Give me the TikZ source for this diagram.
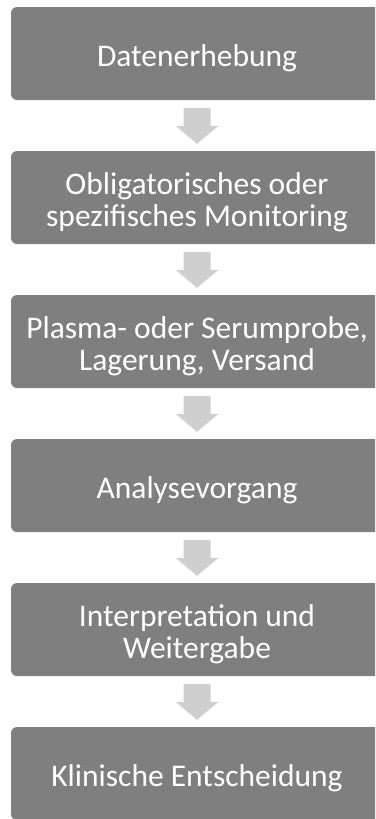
\documentclass[tikz,border=0pt]{standalone}
\usepackage{fontspec}
\setmainfont{Carlito}
\definecolor{boxgray}{HTML}{7F7F7F}
\definecolor{arrgray}{HTML}{CFCFCF}
\begin{document}
\begin{tikzpicture}[x=1pt,y=-1pt,
  stage/.style={fill=boxgray, rounded corners=6pt, minimum width=372pt, minimum height=93pt, inner sep=0pt},
  stagetext/.style={text=white, align=center, inner sep=0pt, font=\fontsize{31.5}{32}\selectfont},
  blockarrow/.style={fill=arrgray}]
\useasboundingbox (0,0) rectangle (375,819);
\clip (0,0) rectangle (375,819);
\foreach \i/\t in {1/{Datenerhebung},2/{Obligatorisches oder\\spezifisches Monitoring},3/{Plasma- oder Serumprobe,\\Lagerung, Versand},4/{Analysevorgang},5/{Interpretation und\\Weitergabe},6/{Klinische Entscheidung}}{
  \node[stage] (b\i) at (197,{7+46.5+144*(\i-1)}) {};
  \node[stagetext] (t\i) at ([yshift=-5pt]b\i.center) {\t};
}
\foreach \i [evaluate=\i as \j using int(\i+1)] in {1,...,5}{
  \fill[blockarrow] ([xshift=-13.5pt,yshift=-8pt]b\i.south) -- ([xshift=13.5pt,yshift=-8pt]b\i.south)
    -- ([xshift=13.5pt,yshift=-26pt]b\i.south) -- ([xshift=21pt,yshift=-26pt]b\i.south)
    -- ([yshift=7pt]b\j.north) -- ([xshift=-21pt,yshift=-26pt]b\i.south)
    -- ([xshift=-13.5pt,yshift=-26pt]b\i.south) -- cycle;
}
\end{tikzpicture}
\end{document}
